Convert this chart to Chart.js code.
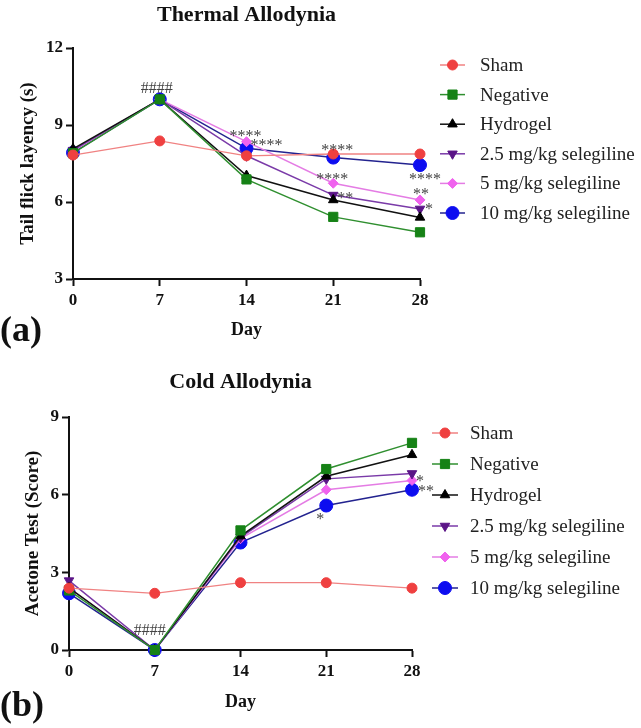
<!DOCTYPE html>
<html><head><meta charset="utf-8">
<script src="https://cdn.jsdelivr.net/npm/chart.js@4.4.0/dist/chart.umd.min.js"></script>
<style>
html,body{margin:0;padding:0;background:#fff;}
#wrap{position:relative;width:641px;height:728px;overflow:hidden;background:#fff;}
canvas{position:absolute;left:0;}
</style></head><body>
<div id="wrap">
<canvas id="c1" width="641" height="360" style="top:0;width:641px;height:360px"></canvas>
<canvas id="c2" width="641" height="368" style="top:360px;width:641px;height:368px"></canvas>
</div>
<script>
// ---- data ----
const days = [0, 7, 14, 21, 28];
const seriesNames = ['Sham', 'Negative', 'Hydrogel', '2.5 mg/kg selegiline', '5 mg/kg selegiline', '10 mg/kg selegiline'];

const thermalSham     = [7.83, 8.38, 7.80, 7.87, 7.87];
const thermalNegative = [7.90, 10.0, 6.88, 5.42, 4.82];
const thermalHydrogel = [8.07, 10.0, 7.03, 6.08, 5.40];
const thermal25       = [8.02, 10.0, 7.80, 6.27, 5.73];
const thermal5        = [7.98, 10.0, 8.35, 6.73, 6.08];
const thermal10       = [7.92, 10.0, 8.09, 7.73, 7.44];

const coldSham     = [2.39, 2.19, 2.60, 2.60, 2.39];
const coldNegative = [2.30, 0.00, 4.62, 6.99, 8.00];
const coldHydrogel = [2.40, 0.00, 4.40, 6.71, 7.54];
const cold25       = [2.68, 0.00, 4.35, 6.61, 6.82];
const cold5        = [2.40, 0.00, 4.30, 6.19, 6.55];
const cold10       = [2.19, 0.00, 4.15, 5.58, 6.19];

const thermalTicks = [3, 6, 9, 12];
const coldTicks = [0, 3, 6, 9];
const dayTicks = [0, 7, 14, 21, 28];

// significance labels: [series index, day index, text]
const thermalMarks = [[1,1,'####'],[4,2,'****'],[5,2,'****'],[0,3,'****'],[4,3,'****'],[3,3,'**'],[5,4,'****'],[4,4,'**'],[3,4,'*']];
const coldMarks = [[1,1,'####'],[5,3,'*'],[3,4,'*'],[5,4,'**']];

// ---- styles ----
const thermalMarkOffsets = [[-3,-11],[-1,-9],[20,-7],[4,-7],[-1,-7],[12,0],[5,11],[1,-9],[9,-3]];
const coldMarkOffsets = [[-5,-19],[-6,10],[8,4],[14,-2]];

const seriesStyles = [
  {color:'#ef4040', line:'#f08282', point:'circle', r:5, rot:0, bw:1.3},
  {color:'#168216', line:'#2f8f2f', point:'rect', r:6.5, rot:0, bw:1.5},
  {color:'#000000', line:'#111111', point:'triangle', r:5.5, rot:0, bw:1.5},
  {color:'#5b1587', line:'#7a3aa8', point:'triangle', r:5.5, rot:180, bw:1.5},
  {color:'#f063ee', line:'#e47ce4', point:'rectRot', r:5, rot:0, bw:1.5},
  {color:'#0d0df0', line:'#23238f', point:'circle', r:6.5, rot:0, bw:1.5}
];
const SERIF = '"Liberation Serif", "Times New Roman", serif';

function buildDatasets(arrays) {
  return arrays.map((arr, i) => {
    const s = seriesStyles[i];
    return {
      label: seriesNames[i],
      data: days.map((d, k) => ({x: d, y: arr[k]})),
      borderColor: s.line,
      backgroundColor: s.color,
      pointBackgroundColor: s.color,
      pointBorderColor: s.color,
      pointBorderWidth: 1,
      pointStyle: s.point,
      pointRotation: s.rot,
      pointRadius: s.r,
      borderWidth: s.bw,
      tension: 0,
      clip: false
    };
  });
}

function drawMarker(ctx, s, x, y) {
  ctx.save();
  ctx.fillStyle = s.color;
  ctx.strokeStyle = s.color;
  ctx.lineWidth = 1;
  if (Chart.helpers && Chart.helpers.drawPoint) {
    Chart.helpers.drawPoint(ctx, {pointStyle: s.point, rotation: s.rot, radius: s.r, borderWidth: 1}, x, y);
  } else {
    ctx.beginPath(); ctx.arc(x, y, s.r, 0, Math.PI*2); ctx.fill();
  }
  ctx.restore();
}

function decorPlugin(cfg) {
  return {
    id: 'decor' + cfg.key,
    afterDatasetsDraw(chart) {
      const ctx = chart.ctx;
      const area = chart.chartArea;
      const xs = chart.scales.x, ys = chart.scales.y;
      ctx.save();
      // title
      ctx.fillStyle = '#111';
      ctx.font = 'bold 22px ' + SERIF;
      ctx.textAlign = 'center';
      ctx.textBaseline = 'middle';
      ctx.fillText(cfg.title, (area.left + area.right) / 2, cfg.titleY);
      // panel label
      ctx.font = 'bold 36px ' + SERIF;
      ctx.textAlign = 'left';
      ctx.fillText(cfg.panel, 0, cfg.panelY);
      // significance marks
      ctx.fillStyle = '#444';
      ctx.font = '16px ' + SERIF;
      ctx.textAlign = 'center';
      cfg.marks.forEach((m, j) => {
        const [si, di, txt] = m;
        const off = cfg.markOffsets[j];
        const px = xs.getPixelForValue(days[di]);
        const py = ys.getPixelForValue(cfg.arrays[si][di]);
        ctx.fillText(txt, px + off[0], py + off[1] + (txt.startsWith('#') ? 0 : 4));
      });
      // legend
      ctx.font = '19px ' + SERIF;
      ctx.textAlign = 'left';
      seriesNames.forEach((name, i) => {
        const s = seriesStyles[i];
        const y = cfg.legY + i * cfg.legStep;
        ctx.strokeStyle = s.line;
        ctx.lineWidth = 1.5;
        ctx.beginPath();
        ctx.moveTo(cfg.legX, y);
        ctx.lineTo(cfg.legX + cfg.legLine, y);
        ctx.stroke();
        drawMarker(ctx, s, cfg.legX + cfg.legLine / 2, y);
        ctx.fillStyle = '#222';
        ctx.fillText(name, cfg.legTextX, y + 1);
      });
      ctx.restore();
    }
  };
}

function makeChart(el, cfg) {
  return new Chart(el, {
    type: 'line',
    data: {datasets: buildDatasets(cfg.arrays)},
    options: {
      responsive: false,
      animation: false,
      devicePixelRatio: 1,
      layout: {padding: {left: 0, right: cfg.padRight, top: cfg.padTop, bottom: 0}},
      plugins: {legend: {display: false}, title: {display: false}, tooltip: {enabled: false}},
      scales: {
        x: {
          type: 'linear', min: 0, max: 28,
          afterBuildTicks: s => { s.ticks = dayTicks.map(v => ({value: v})); },
          afterFit: s => { s.height = cfg.xHeight; },
          grid: {display: true, drawOnChartArea: false, drawTicks: true, tickLength: 7, tickWidth: 2, tickColor: '#111'},
          border: {display: true, color: '#111', width: 2},
          ticks: {color: '#111', padding: 4, font: {family: SERIF, size: 17, weight: 'bold'}, maxRotation: 0},
          title: {display: true, text: 'Day', color: '#111', font: {family: SERIF, size: 18, weight: 'bold'}, padding: {top: 0, bottom: cfg.xTitlePad}}
        },
        y: {
          type: 'linear', min: cfg.yTicks[0], max: cfg.yTicks[cfg.yTicks.length - 1],
          afterBuildTicks: s => { s.ticks = cfg.yTicks.map(v => ({value: v})); },
          afterFit: s => { s.width = cfg.yWidth; },
          grid: {display: true, drawOnChartArea: false, drawTicks: true, tickLength: 7, tickWidth: 2, tickColor: '#111'},
          border: {display: true, color: '#111', width: 2},
          ticks: {color: '#111', padding: 3, font: {family: SERIF, size: 17, weight: 'bold'}},
          title: {display: true, text: cfg.yTitle, color: '#111', font: {family: SERIF, size: 19, weight: 'bold'}, padding: {top: cfg.yTitlePad, bottom: 0}}
        }
      }
    },
    plugins: [decorPlugin(cfg)]
  });
}

makeChart(document.getElementById('c1'), {
  key: 'a',
  arrays: [thermalSham, thermalNegative, thermalHydrogel, thermal25, thermal5, thermal10],
  yTicks: thermalTicks,
  yTitle: 'Tail flick layency (s)',
  title: 'Thermal Allodynia', titleY: 15,
  panel: '(a)', panelY: 332,
  marks: thermalMarks, markOffsets: thermalMarkOffsets,
  padRight: 221, padTop: 48, xHeight: 81, yWidth: 73,
  xTitlePad: 19, yTitlePad: 17,
  legX: 440, legLine: 25, legTextX: 480, legY: 65, legStep: 29.6
});

makeChart(document.getElementById('c2'), {
  key: 'b',
  arrays: [coldSham, coldNegative, coldHydrogel, cold25, cold5, cold10],
  yTicks: coldTicks,
  yTitle: 'Acetone Test (Score)',
  title: 'Cold Allodynia', titleY: 22,
  panel: '(b)', panelY: 347,
  marks: coldMarks, markOffsets: coldMarkOffsets,
  padRight: 229, padTop: 57, xHeight: 78, yWidth: 69,
  xTitlePad: 15, yTitlePad: 22,
  legX: 432, legLine: 26, legTextX: 470, legY: 73, legStep: 31
});
</script>
</body></html>
